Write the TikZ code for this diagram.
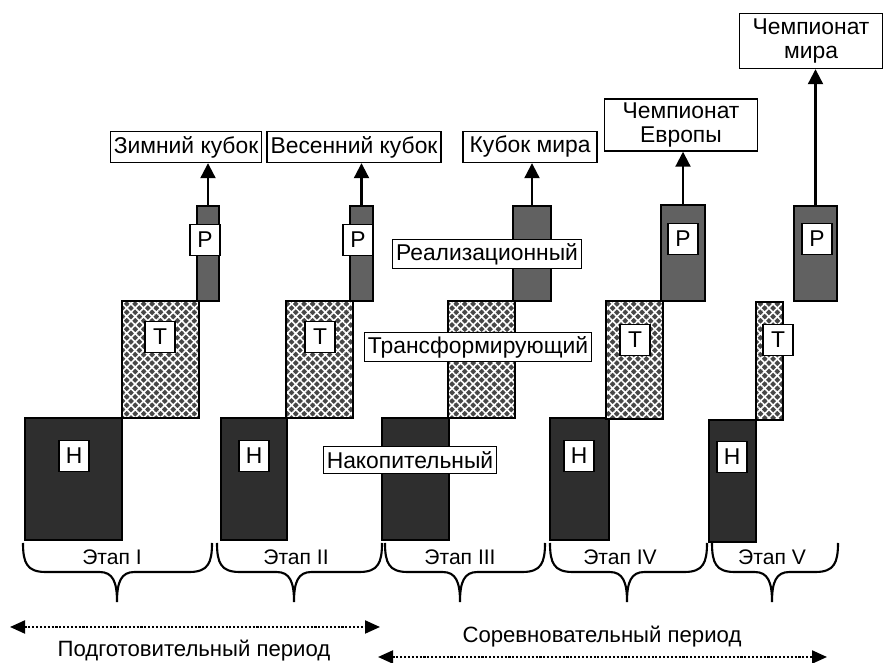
\documentclass[tikz,border=0pt]{standalone}
\usepackage{fontspec}
\setmainfont{Liberation Sans}
\usetikzlibrary{arrows.meta,positioning,patterns.meta}

\begin{document}
\begin{tikzpicture}[
  lbl/.style={draw, fill=white, line width=0.8pt, inner sep=2pt, minimum height=0.62cm, align=center, font=\fontsize{13}{14}\selectfont},
  letter/.style={lbl, minimum width=0.6cm, inner sep=0pt},
  block/.style={draw, line width=0.8pt, inner sep=0pt, outer sep=0pt},
  nblock/.style={block, fill=black!82},
  tblock/.style={block, preaction={fill=black!72}, pattern={Hatch[angle=45, distance=3.4pt, line width=0.9pt]}, pattern color=white},
  pblock/.style={block, fill=black!62},
  arr/.style={-{Triangle[length=3mm, width=3mm]}, line width=1.2pt},
  period/.style={{Triangle[length=3mm, width=2.6mm]}-{Triangle[length=3mm, width=2.6mm]}, densely dotted, line width=1.2pt},
  brc/.style={line width=1.2pt},
  stagetxt/.style={font=\fontsize{12}{14}\selectfont},
  periodtxt/.style={font=\fontsize{12.6}{14}\selectfont},
]
\useasboundingbox (0,0) rectangle (17.7,13.26);

% Stage I
\node[nblock, minimum width=1.94cm, minimum height=2.44cm] (n1) at (1.47, 3.68) {};
\node[tblock, minimum width=1.54cm, minimum height=2.34cm] (t1) at (3.21, 6.07) {};
\node[pblock, minimum width=0.44cm, minimum height=1.90cm] (p1) at (4.16, 8.19) {};
\node[letter] (n1l) at (1.48, 4.14) {Н};
\node[letter] (t1l) at (3.20, 6.52) {Т};
\node[letter] (p1l) at (4.10, 8.46) {Р};
\node[lbl, minimum width=3.0cm] (ev1) at (3.72, 10.32) {Зимний кубок};

% Stage II
\node[nblock, minimum width=1.32cm, minimum height=2.44cm] (n2) at (5.08, 3.68) {};
\node[tblock, minimum width=1.34cm, minimum height=2.34cm] (t2) at (6.39, 6.07) {};
\node[pblock, minimum width=0.46cm, minimum height=1.90cm] (p2) at (7.23, 8.19) {};
\node[letter] (n2l) at (5.08, 4.14) {Н};
\node[letter] (t2l) at (6.40, 6.52) {Т};
\node[letter] (p2l) at (7.16, 8.46) {Р};
\node[lbl, minimum width=3.42cm] (ev2) at (7.08, 10.32) {Весенний кубок};

% Stage III
\node[nblock, minimum width=1.34cm, minimum height=2.44cm] (n3) at (8.31, 3.68) {};
\node[tblock, minimum width=1.34cm, minimum height=2.34cm] (t3) at (9.63, 6.07) {};
\node[pblock, minimum width=0.76cm, minimum height=1.90cm] (p3) at (10.64, 8.19) {};
\node[lbl, minimum width=3.40cm, minimum height=0.54cm] (n3l) at (8.20, 4.06) {Накопительный};
\node[lbl, minimum width=4.28cm, minimum height=0.58cm] (t3l) at (9.56, 6.32) {Трансформирующий};
\node[lbl, minimum width=3.62cm, minimum height=0.56cm] (p3l) at (9.74, 8.18) {Реализационный};
\node[lbl, minimum width=2.68cm] (ev3) at (10.60, 10.32) {Кубок мира};

% Stage IV
\node[nblock, minimum width=1.18cm, minimum height=2.44cm] (n4) at (11.59, 3.68) {};
\node[tblock, minimum width=1.14cm, minimum height=2.36cm] (t4) at (12.69, 6.06) {};
\node[pblock, minimum width=0.88cm, minimum height=1.92cm] (p4) at (13.66, 8.20) {};
\node[letter] (n4l) at (11.58, 4.14) {Н};
\node[letter] (t4l) at (12.70, 6.46) {Т};
\node[letter] (p4l) at (13.66, 8.48) {Р};
\node[lbl, minimum width=3.06cm, minimum height=0.98cm] (ev4) at (13.62, 10.76) {Чемпионат\\Европы};

% Stage V
\node[nblock, minimum width=0.94cm, minimum height=2.44cm] (n5) at (14.65, 3.64) {};
\node[tblock, minimum width=0.54cm, minimum height=2.36cm] (t5) at (15.39, 6.04) {};
\node[pblock, minimum width=0.86cm, minimum height=1.90cm] (p5) at (16.31, 8.19) {};
\node[letter] (n5l) at (14.64, 4.12) {Н};
\node[letter] (t5l) at (15.56, 6.46) {Т};
\node[letter] (p5l) at (16.34, 8.48) {Р};
\node[lbl, minimum width=2.86cm, minimum height=1.10cm] (ev5) at (16.22, 12.44) {Чемпионат\\мира};

% Arrows to competitions
\draw[arr] (p1.north) -- (p1.north |- ev1.south);
\draw[arr] (p2.north) -- (p2.north |- ev2.south);
\draw[arr] (p3.north) -- (p3.north |- ev3.south);
\draw[arr] (p4.north) -- (p4.north |- ev4.south);
\draw[arr] (p5.north) -- (p5.north |- ev5.south);

% Braces
\draw[brc] (0.46,2.40) .. controls (0.46,2.00) and (0.54,1.82) .. (0.91,1.82) -- (1.99,1.82) .. controls (2.26,1.82) and (2.34,1.62) .. (2.34,1.22) .. controls (2.34,1.62) and (2.42,1.82) .. (2.69,1.82) -- (3.79,1.82) .. controls (4.16,1.82) and (4.24,2.00) .. (4.24,2.40);
\draw[brc] (4.34,2.40) .. controls (4.34,2.00) and (4.42,1.82) .. (4.79,1.82) -- (5.53,1.82) .. controls (5.80,1.82) and (5.88,1.62) .. (5.88,1.22) .. controls (5.88,1.62) and (5.96,1.82) .. (6.23,1.82) -- (7.19,1.82) .. controls (7.56,1.82) and (7.64,2.00) .. (7.64,2.40);
\draw[brc] (7.70,2.40) .. controls (7.70,2.00) and (7.78,1.82) .. (8.15,1.82) -- (8.85,1.82) .. controls (9.12,1.82) and (9.20,1.62) .. (9.20,1.22) .. controls (9.20,1.62) and (9.28,1.82) .. (9.55,1.82) -- (10.45,1.82) .. controls (10.82,1.82) and (10.90,2.00) .. (10.90,2.40);
\draw[brc] (11.00,2.40) .. controls (11.00,2.00) and (11.08,1.82) .. (11.45,1.82) -- (12.19,1.82) .. controls (12.46,1.82) and (12.54,1.62) .. (12.54,1.22) .. controls (12.54,1.62) and (12.62,1.82) .. (12.89,1.82) -- (13.69,1.82) .. controls (14.06,1.82) and (14.14,2.00) .. (14.14,2.40);
\draw[brc] (14.24,2.40) .. controls (14.24,2.00) and (14.32,1.82) .. (14.69,1.82) -- (15.09,1.82) .. controls (15.36,1.82) and (15.44,1.62) .. (15.44,1.22) .. controls (15.44,1.62) and (15.52,1.82) .. (15.79,1.82) -- (16.31,1.82) .. controls (16.68,1.82) and (16.76,2.00) .. (16.76,2.40);

% Stage names
\node[stagetxt] (s1) at (2.24, 2.12) {Этап I};
\node[stagetxt] (s2) at (5.92, 2.12) {Этап II};
\node[stagetxt] (s3) at (9.20, 2.12) {Этап III};
\node[stagetxt] (s4) at (12.40, 2.12) {Этап IV};
\node[stagetxt] (s5) at (15.44, 2.12) {Этап V};

% Periods
\coordinate (prepL) at (0.20, 0.72);
\coordinate (prepR) at (7.60, 0.72);
\coordinate (compL) at (7.56, 0.12);
\coordinate (compR) at (16.54, 0.12);
\draw[period] (prepL) -- (prepR);
\draw[period] (compL) -- (compR);
\node[periodtxt] (prep) at (3.88, 0.24) {Подготовительный период};
\node[periodtxt] (comp) at (12.04, 0.52) {Соревновательный период};

\end{tikzpicture}
\end{document}
